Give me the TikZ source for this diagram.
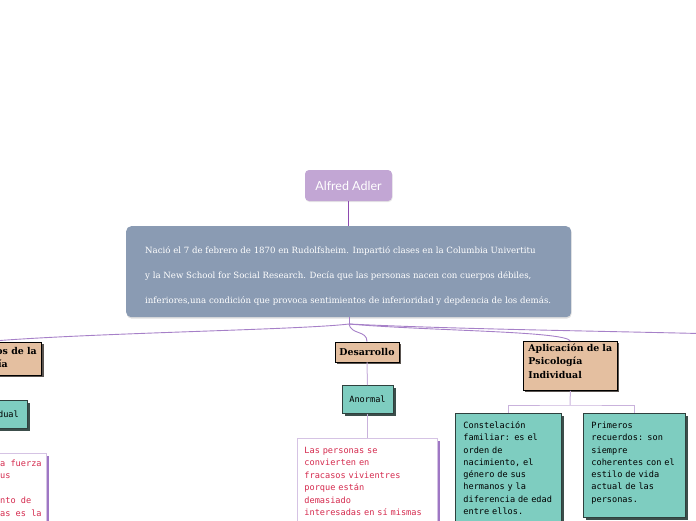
\documentclass[tikz,border=0pt]{standalone}
\usepackage{fontspec}
\setmainfont{DejaVu Serif}
\newfontfamily\adlerfont{Lato}
\newfontfamily\pixmono{DejaVu Sans Mono}
\usetikzlibrary{shadows}
\definecolor{adlerfill}{HTML}{C2A6D4}
\definecolor{mainfill}{HTML}{8A9BB3}
\definecolor{tanfill}{HTML}{E4BFA0}
\definecolor{tealfill}{HTML}{7ECDC0}
\definecolor{tealborder}{HTML}{2E403D}
\definecolor{tealshadow}{HTML}{3C4E4B}
\definecolor{tanshadow}{HTML}{5A5450}
\definecolor{purpline}{HTML}{A680C8}
\definecolor{darkpurp}{HTML}{8E4AB0}
\definecolor{lightpurp}{HTML}{C9B2DC}
\definecolor{lavborder}{HTML}{D5C3E4}
\definecolor{purpshadow}{HTML}{9E77C4}
\definecolor{redtext}{HTML}{D52A4E}
\tikzset{
  adlerbox/.style={fill=adlerfill, rounded corners=4pt, minimum width=87pt, minimum height=31pt, inner sep=0pt,
    text=white, font=\adlerfont\fontsize{12.5}{14}\selectfont,
    drop shadow={opacity=0.2, shadow xshift=0.5pt, shadow yshift=-1pt}},
  mainbox/.style={fill=mainfill, rounded corners=5pt, minimum width=445pt, minimum height=91pt, inner sep=0pt,
    drop shadow={opacity=0.25, shadow xshift=0.5pt, shadow yshift=-1.5pt}},
  maintext/.style={inner sep=0pt, align=left, text=white, font=\fontsize{8.6}{25}\selectfont},
  tanbox/.style={draw=black, line width=0.8pt, fill=tanfill, inner sep=0pt,
    general shadow={fill=tanshadow, shadow xshift=2pt, shadow yshift=-2pt},
    font=\bfseries\fontsize{9.4}{13.5}\selectfont},
  tealbox/.style={draw=tealborder, line width=0.8pt, fill=tealfill, inner ysep=0pt,
    general shadow={fill=tealshadow, shadow xshift=2.5pt, shadow yshift=-2.5pt},
    font=\pixmono\fontsize{8.6}{12.3}\selectfont},
  whitebox/.style={draw=lavborder, line width=0.8pt, fill=white, inner ysep=0pt,
    general shadow={fill=purpshadow, shadow xshift=2.5pt, shadow yshift=-2.5pt},
    text=redtext, font=\pixmono\fontsize{8.6}{12.5}\selectfont},
  plaintext/.style={inner sep=0pt},
  branch/.style={draw=purpline, line width=0.9pt},
  sublink/.style={draw=lightpurp, line width=1pt},
}
\begin{document}
\begin{tikzpicture}[x=1pt,y=-1pt]
\path[use as bounding box] (0,0) rectangle (696,520);

% top node and main description
\node[adlerbox] (adler) at (348.5,185.5) {Alfred Adler};
\node[mainbox, anchor=north west] (main) at (126,226) {};
\node[maintext, anchor=north west] (maintxt) at (145,244) {\rule{0pt}{9pt}Nació el 7 de febrero de 1870 en Rudolfsheim. Impartió clases en la Columbia Univertitu\\
y la New School for Social Research. Decía que las personas nacen con cuerpos débiles,\\
inferiores,una condición que provoca sentimientos de inferioridad y depdencia de los demás.};
\draw[darkpurp, line width=1.3pt] (adler.south) -- (main.north -| adler.south);

% branch junction
\coordinate (J) at (349,324);
\coordinate (rightend) at (720,334);

% left cut-off column
\node[tanbox, anchor=north east, minimum width=120pt, minimum height=33pt] (lefttan) at (42,342) {};
\node[plaintext, anchor=base east, font=\bfseries\fontsize{9.4}{13.5}\selectfont] (lefttan1) at (37,354) {os de la};
\node[plaintext, anchor=base east, font=\bfseries\fontsize{9.4}{13.5}\selectfont] (lefttan2) at (8,367) {ía};
\node[tealbox, anchor=north east, minimum width=80pt, minimum height=28pt] (leftteal) at (28,400) {};
\node[plaintext, anchor=base east, font=\pixmono\fontsize{8.6}{12.3}\selectfont] (lefttealtxt) at (19,417) {dual};
\node[whitebox, anchor=north east, minimum width=150pt, minimum height=90pt] (leftwhite) at (47,453) {};
\node[plaintext, anchor=north west, align=left, text=redtext, font=\pixmono\fontsize{8.6}{12.5}\selectfont] (leftwhitetxt) at (0,453)
  {\rule{0pt}{13pt}a fuerza\\us\\\mbox{}\\nto de\\as es la};

% Desarrollo column
\node[tanbox, minimum width=64pt, minimum height=20pt] (desarrollo) at (367,352) {Desarrollo};
\node[tealbox, minimum width=51pt, minimum height=28pt] (anormal) at (367.5,399.5) {Anormal};
\node[whitebox, anchor=north west, text width=126pt, inner xsep=7pt, align=left] (personas) at (297,438)
  {\rule{0pt}{15pt}Las personas se\\convierten en\\fracasos vivientres\\porque están\\demasiado\\interesadas en sí mismas\rule[-20pt]{0pt}{20pt}};

% Aplicacion column
\node[tanbox, anchor=north west, minimum width=94pt, text width=88pt, inner xsep=3pt, align=left] (aplicacion) at (523,341)
  {\rule{0pt}{10pt}\hspace*{2pt}Aplicación de la\\\hspace*{2pt}Psicología\\\hspace*{2pt}Individual\rule[-12pt]{0pt}{12pt}};
\node[tealbox, anchor=north west, text width=94pt, inner xsep=6pt, align=left] (constelacion) at (455,413)
  {\rule{0pt}{15pt}\hspace*{2pt}Constelación\\\hspace*{2pt}familiar: es el\\\hspace*{2pt}orden de\\\hspace*{2pt}nacimiento, el\\\hspace*{2pt}género de sus\\\hspace*{2pt}hermanos y la\\\hspace*{2pt}diferencia de edad\\\hspace*{2pt}entre ellos.\rule[-20pt]{0pt}{20pt}};
\node[tealbox, anchor=north west, text width=90pt, inner xsep=6pt, align=left] (recuerdos) at (583,413)
  {\rule{0pt}{15pt}\hspace*{2pt}Primeros\\\hspace*{2pt}recuerdos: son\\\hspace*{2pt}siempre\\\hspace*{2pt}coherentes con el\\\hspace*{2pt}estilo de vida\\\hspace*{2pt}actual de las\\\hspace*{2pt}personas.\rule[-15pt]{0pt}{15pt}};

% branches from main box
\draw[branch] (main.south -| J) -- (J);
\draw[branch] (J) .. controls (300,330) and (80,333) .. (lefttan.north);
\draw[branch] (J) .. controls (351,335) and (367,330) .. (desarrollo.north);
\draw[branch] (J) .. controls (430,331) and (565,331) .. (aplicacion.north);
\draw[branch] (J) .. controls (450,329) and (600,331) .. (rightend);

% sub links
\draw[sublink] (desarrollo.south) -- (anormal.north);
\draw[sublink] (anormal.south) -- (personas.north -| anormal.south);
\coordinate (hsplit) at (570,405);
\draw[sublink] (aplicacion.south) -- (hsplit);
\draw[sublink] (constelacion.north) |- (hsplit) -| (recuerdos.north);
\end{tikzpicture}
\end{document}
